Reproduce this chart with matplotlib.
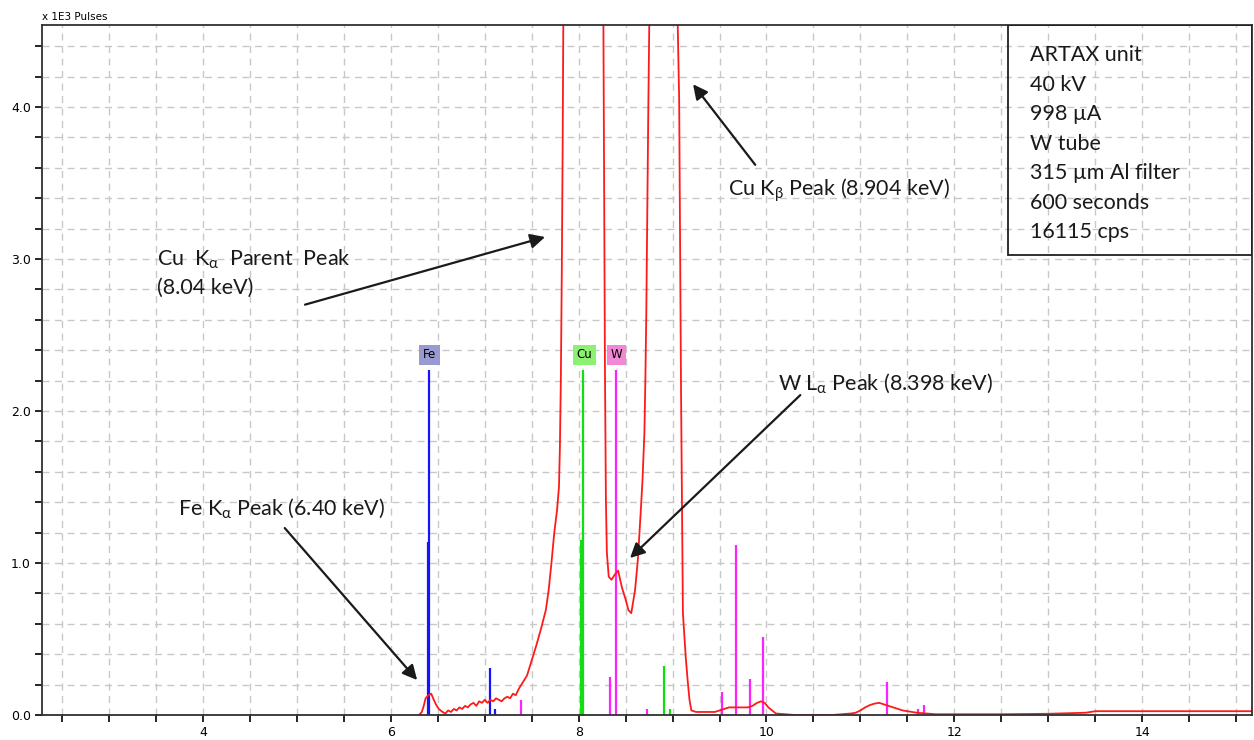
import numpy as np
import matplotlib.pyplot as plt
from matplotlib.ticker import MultipleLocator, FormatStrFormatter

# spectrum (keV, x1E3 pulses)
energy = [6.30, 6.33, 6.35, 6.37, 6.40, 6.43, 6.45, 6.48, 6.51, 6.55, 6.58, 6.61, 6.64,
          6.67, 6.70, 6.73, 6.76, 6.79, 6.82, 6.85, 6.88, 6.91, 6.94, 6.97, 7.00, 7.03,
          7.06, 7.09, 7.12, 7.15, 7.18, 7.21, 7.24, 7.27, 7.30, 7.33, 7.36, 7.40, 7.45,
          7.50, 7.55, 7.60, 7.65, 7.68, 7.71, 7.74, 7.77, 7.79, 7.80, 7.81, 7.82, 7.83,
          7.84, 7.86, 7.90, 7.95, 8.00, 8.04, 8.10, 8.15, 8.20, 8.24, 8.26, 8.28, 8.29,
          8.30, 8.32, 8.35, 8.38, 8.42, 8.46, 8.50, 8.53, 8.56, 8.60, 8.63, 8.66, 8.68,
          8.70, 8.71, 8.72, 8.74, 8.76, 8.80, 8.86, 8.90, 8.95, 9.00, 9.04, 9.07, 9.09,
          9.11, 9.14, 9.16, 9.18, 9.20, 9.25, 9.30, 9.35, 9.40, 9.45, 9.50, 9.55, 9.60,
          9.65, 9.70, 9.75, 9.80, 9.85, 9.90, 9.94, 9.98, 10.02, 10.06, 10.10, 10.20,
          10.30, 10.50, 10.70, 10.90, 10.95, 11.00, 11.05, 11.10, 11.15, 11.20, 11.25,
          11.30, 11.35, 11.40, 11.45, 11.50, 11.60, 11.70, 11.80, 12.00, 12.50, 13.00,
          13.40, 13.50, 14.00, 14.50, 15.00, 15.20]
pulses = [0.00, 0.02, 0.06, 0.11, 0.13, 0.14, 0.11, 0.07, 0.04, 0.02, 0.01, 0.03, 0.02,
          0.04, 0.03, 0.05, 0.04, 0.06, 0.05, 0.07, 0.08, 0.06, 0.09, 0.08, 0.10, 0.08,
          0.10, 0.09, 0.11, 0.10, 0.09, 0.11, 0.12, 0.11, 0.14, 0.13, 0.17, 0.21, 0.26,
          0.36, 0.46, 0.57, 0.69, 0.82, 1.00, 1.20, 1.35, 1.50, 1.76, 2.20, 2.90, 3.80,
          5.00, 8.00, 15.0, 25.0, 35.0, 40.0, 30.0, 18.0, 10.0, 6.00, 5.00, 2.25, 1.41,
          1.07, 0.91, 0.89, 0.92, 0.95, 0.84, 0.76, 0.69, 0.67, 0.82, 1.02, 1.33, 1.55,
          1.86, 2.20, 2.64, 3.90, 5.00, 8.00, 12.0, 14.0, 11.0, 7.00, 5.00, 4.05, 2.12,
          0.67, 0.38, 0.23, 0.10, 0.03, 0.02, 0.02, 0.02, 0.02, 0.02, 0.03, 0.04, 0.05,
          0.05, 0.05, 0.05, 0.05, 0.06, 0.08, 0.09, 0.08, 0.05, 0.03, 0.01, 0.005,
          0.0, 0.0, 0.0, 0.01, 0.015, 0.03, 0.05, 0.065, 0.075, 0.08, 0.07,
          0.06, 0.05, 0.04, 0.03, 0.025, 0.015, 0.01, 0.005, 0.005, 0.005, 0.008,
          0.015, 0.025, 0.025, 0.025, 0.025, 0.025]

# element line markers
fe_lines = [6.391, 6.404, 7.058, 7.11]
fe_heights = [1.14, 2.27, 0.31, 0.04]
cu_lines = [8.028, 8.048, 8.905, 8.977]
cu_heights = [1.15, 2.27, 0.32, 0.04]
w_lines = [7.388, 8.335, 8.398, 8.724, 9.525, 9.672, 9.819, 9.962, 11.286, 11.61, 11.68]
w_heights = [0.10, 0.25, 2.27, 0.04, 0.15, 1.12, 0.24, 0.51, 0.22, 0.04, 0.065]

info_lines = ["ARTAX unit", "40 kV", "998 µA", "W tube", "315 µm Al filter",
              "600 seconds", "16115 cps"]

plt.rcParams['mathtext.fontset'] = 'dejavusans'
plt.rcParams['mathtext.default'] = 'regular'
ann_font = dict(family='Lato', size=15.5, color='#1a1a1a')

fig = plt.figure(figsize=(12.54, 7.40), dpi=100)
ax = fig.add_axes([42 / 1254, 1 - 715 / 740, 1210 / 1254, 690 / 740])

ax.set_xlim(2.285, 15.17)
ax.set_ylim(0, 4.54)

ax.xaxis.set_major_locator(MultipleLocator(2))
ax.xaxis.set_minor_locator(MultipleLocator(0.5))
ax.yaxis.set_major_locator(MultipleLocator(1.0))
ax.yaxis.set_minor_locator(MultipleLocator(0.2))
ax.yaxis.set_major_formatter(FormatStrFormatter('%.1f'))
ax.tick_params(which='both', direction='out', length=5, width=1.2, labelsize=9, pad=3)
ax.grid(which='both', color='#c8c8c8', linestyle=(0, (5, 4)), linewidth=1)
ax.set_axisbelow(True)
for s in ax.spines.values():
    s.set_linewidth(1.3)
    s.set_color('#303030')

# element markers
ax.vlines(fe_lines, 0, fe_heights, color='#1414ff', lw=1.6)
ax.vlines(cu_lines, 0, cu_heights, color='#10e010', lw=1.6)
ax.vlines(w_lines, 0, w_heights, color='#ff22ff', lw=1.6)

ax.plot(energy, pulses, color='#ff1a1a', lw=1.3)

for label, pos, col in [("Fe", 6.41, '#9a9ad2'), ("Cu", 8.06, '#8cf070'), ("W", 8.40, '#f088d4')]:
    ax.text(pos, 2.37, label, ha='center', va='center', fontsize=8.5,
            bbox=dict(boxstyle='square,pad=0.3', fc=col, ec='none'))

ax.text(0, 1.005, "x 1E3 Pulses", transform=ax.transAxes, fontsize=7.5,
        ha='left', va='bottom')

# annotations
arrow = dict(arrowstyle='-|>', color='#1a1a1a', lw=1.6, mutation_scale=22, shrinkA=0, shrinkB=0)
ax.annotate("", xy=(7.642, 3.145), xytext=(5.086, 2.70), arrowprops=arrow)
ax.text(3.51, 3.00, "Cu  K$_{α}$  Parent  Peak", va='center', ha='left', **ann_font)
ax.text(3.51, 2.81, "(8.04 keV)", va='center', ha='left', **ann_font)

ax.annotate("", xy=(9.218, 4.15), xytext=(9.88, 3.62), arrowprops=arrow)
ax.text(9.59, 3.45, "Cu K$_{β}$ Peak (8.904 keV)", va='center', ha='left', **ann_font)

ax.annotate("", xy=(8.547, 1.033), xytext=(10.36, 2.105), arrowprops=arrow)
ax.text(10.12, 2.18, "W L$_{α}$ Peak (8.398 keV)", va='center', ha='left', **ann_font)

ax.annotate("", xy=(6.28, 0.23), xytext=(4.87, 1.23), arrowprops=arrow)
ax.text(3.73, 1.36, "Fe K$_{α}$ Peak (6.40 keV)", va='center', ha='left', **ann_font)

# info box
ax.add_patch(plt.Rectangle((12.573, 3.026), 15.17 - 12.573, 4.54 - 3.026, fill=False,
                           ec='#202020', lw=1.3, zorder=5))
for i, t in enumerate(info_lines):
    ax.text(12.807, 4.34 - i * 0.194, t, va='center', ha='left', **ann_font)

fig.savefig("out.png", dpi=100)
